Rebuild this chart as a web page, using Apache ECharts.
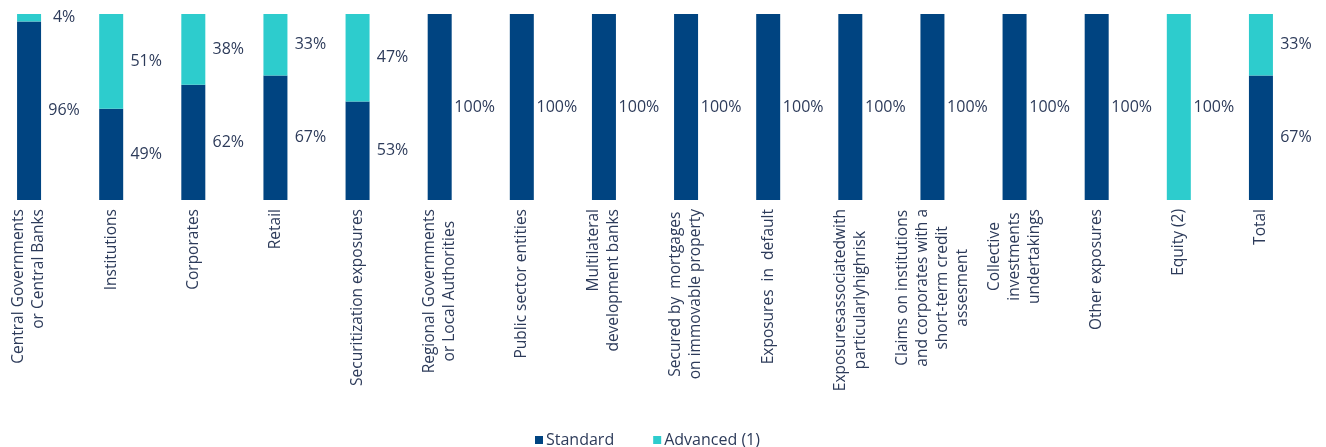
<!DOCTYPE html>
<html>
<head>
<meta charset="utf-8">
<script src="https://cdn.jsdelivr.net/npm/echarts@6/dist/echarts.min.js"></script>
<style>
html,body{margin:0;padding:0;background:#fff;}
#chart{width:1326px;height:447px;}
</style>
</head>
<body>
<div id="chart"></div>
<script>
const categories = [
  'Central Governments\nor Central Banks',
  'Institutions',
  'Corporates',
  'Retail',
  'Securitization exposures',
  'Regional Governments\nor Local Authorities',
  'Public sector entities',
  'Multilateral\ndevelopment banks',
  'Secured by  mortgages\non immovable property',
  'Exposures  in  default',
  'Exposuresassociatedwith\nparticularlyhighrisk',
  'Claims on institutions\nand corporates with a\nshort-term credit\nassesment',
  'Collective\ninvestments\nundertakings',
  'Other exposures',
  'Equity (2)',
  'Total'
];
const standardValues = [96, 49, 62, 67, 53, 100, 100, 100, 100, 100, 100, 100, 100, 100, 0, 67];
const advancedValues = [4, 51, 38, 33, 47, 0, 0, 0, 0, 0, 0, 0, 0, 0, 100, 33];
const seriesNames = ['Standard', 'Advanced (1)'];
// categories whose wrapped lines are flush with the axis (not centred)
const flushLabels = ['Central Governments\nor Central Banks', 'Multilateral\ndevelopment banks'];

const textColor = '#2d3b5a';
const fontFamily = '"Open Sans", "DejaVu Sans", sans-serif';

const chart = echarts.init(document.getElementById('chart'));
const labelCfg = {
  show: true,
  position: 'right',
  align: 'center',
  distance: 23,
  color: textColor,
  fontSize: 16,
  fontFamily: fontFamily,
  formatter: p => p.value > 0 ? p.value + '%' : ''
};
chart.setOption({
  animation: false,
  grid: { left: 0, right: 12, top: 14, bottom: 247 },
  legend: {
    data: seriesNames,
    left: 530,
    top: 427,
    icon: 'rect',
    itemWidth: 8,
    itemHeight: 8,
    itemGap: 39,
    textStyle: { color: textColor, fontSize: 16, fontFamily: fontFamily, padding: [0, 0, 0, -2] }
  },
  xAxis: {
    type: 'category',
    data: categories,
    axisLine: { show: false },
    axisTick: { show: false },
    axisLabel: {
      interval: 0,
      rotate: 90,
      margin: 9,
      padding: [0, 0, 24, 0],
      color: textColor,
      fontSize: 15.5,
      fontFamily: fontFamily,
      formatter: v => {
        const key = flushLabels.indexOf(v) >= 0 ? 'r' : 'c';
        return v.split('\n').map(s => '{' + key + '|' + s + '}').join('\n');
      },
      rich: {
        c: { align: 'center', fontSize: 15.5, lineHeight: 20, color: textColor, fontFamily: fontFamily },
        r: { align: 'right', fontSize: 15.5, lineHeight: 20, color: textColor, fontFamily: fontFamily }
      }
    }
  },
  yAxis: {
    type: 'value',
    min: 0,
    max: 100,
    show: false,
    splitLine: { show: false }
  },
  series: [
    {
      name: seriesNames[0],
      type: 'bar',
      stack: 'total',
      barWidth: 24,
      barGap: '0%',
      data: standardValues,
      itemStyle: { color: '#004481' },
      label: labelCfg
    },
    {
      name: seriesNames[1],
      type: 'bar',
      stack: 'total',
      barWidth: 24,
      barGap: '0%',
      data: advancedValues,
      itemStyle: { color: '#2dcccd' },
      label: labelCfg
    },
    {
      // invisible spacer so that each visible bar sits left of its slot centre
      name: 'spacer',
      type: 'bar',
      stack: 'spacer',
      barWidth: 24,
      barGap: '0%',
      silent: true,
      data: categories.map(() => 0),
      itemStyle: { color: 'rgba(0,0,0,0)' },
      label: { show: false }
    }
  ]
});
</script>
